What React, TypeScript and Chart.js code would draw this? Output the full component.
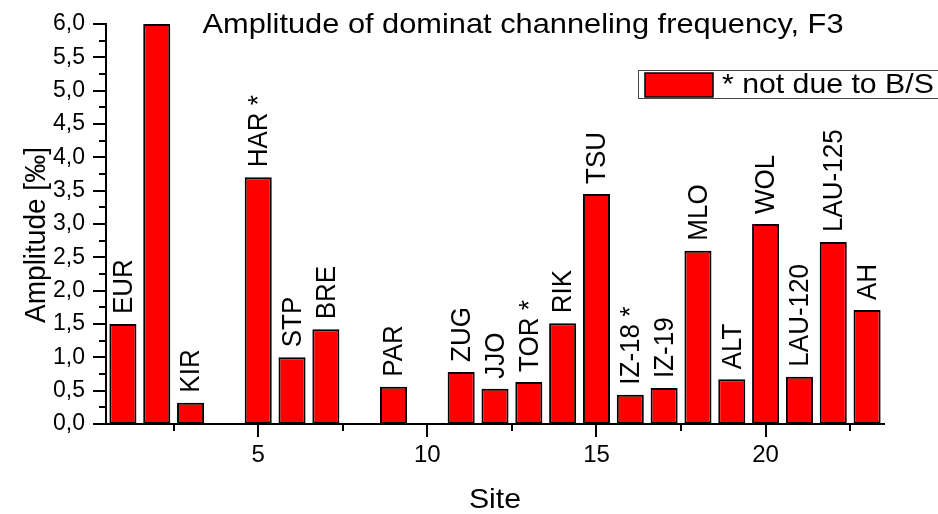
import React, { useEffect, useRef } from "react";
import { Chart, registerables } from "chart.js";

Chart.register(...registerables);

// ---- data ----
const siteNumbers = [1, 2, 3, 4, 5, 6, 7, 8, 9, 10, 11, 12, 13, 14, 15, 16, 17, 18, 19, 20, 21, 22, 23];
const siteNames = [
  "EUR", "", "KIR", "", "HAR *", "STP", "BRE", "", "PAR", "", "ZUG", "JJO",
  "TOR *", "RIK", "TSU", "IZ-18 *", "IZ-19", "MLO", "ALT", "WOL", "LAU-120", "LAU-125", "AH",
];
const amplitudes: (number | null)[] = [
  1.5, 6.0, 0.32, null, 3.7, 1.0, 1.42, null, 0.56, null, 0.78, 0.53,
  0.63, 1.51, 3.45, 0.44, 0.54, 2.6, 0.67, 3.0, 0.71, 2.73, 1.71,
];
const xMajorTicks = [5, 10, 15, 20];
const xMinorTicks = [2.5, 7.5, 12.5, 17.5, 22.5];
const yMinorTicks = [0.25, 0.75, 1.25, 1.75, 2.25, 2.75, 3.25, 3.75, 4.25, 4.75, 5.25, 5.75];
const chartTitle = "Amplitude of dominat channeling frequency, F3";
const xAxisTitle = "Site";
const yAxisTitle = "Amplitude [‰]";
const legendLabel = "* not due to B/S";

const FONT = "'Liberation Sans', Arial, Helvetica, sans-serif";
const STRETCH = 1.08;

const points = siteNumbers
  .map((s, i) => ({ x: s, y: amplitudes[i], name: siteNames[i] }))
  .filter((p) => p.y !== null) as { x: number; y: number; name: string }[];

function stretchedText(ctx: CanvasRenderingContext2D, text: string, x: number, y: number, rotate = false) {
  ctx.save();
  ctx.translate(x, y);
  ctx.scale(STRETCH, 1);
  if (rotate) ctx.rotate(-Math.PI / 2);
  ctx.fillText(text, 0, 0);
  ctx.restore();
}

const decorPlugin = {
  id: "decor",
  afterDraw(chart: any) {
    const ctx: CanvasRenderingContext2D = chart.ctx;
    const xs = chart.scales.x;
    const ys = chart.scales.y;
    const area = chart.chartArea;
    ctx.save();
    ctx.strokeStyle = "#000";
    ctx.lineWidth = 2;
    ctx.beginPath();
    ys.ticks.forEach((t: any) => {
      const p = Math.round(ys.getPixelForValue(t.value));
      ctx.moveTo(area.left - 13, p);
      ctx.lineTo(area.left, p);
    });
    yMinorTicks.forEach((v) => {
      const p = Math.round(ys.getPixelForValue(v));
      ctx.moveTo(area.left - 7, p);
      ctx.lineTo(area.left, p);
    });
    xMajorTicks.forEach((v) => {
      const p = Math.round(xs.getPixelForValue(v));
      ctx.moveTo(p, area.bottom);
      ctx.lineTo(p, area.bottom + 13);
    });
    xMinorTicks.forEach((v) => {
      const p = Math.round(xs.getPixelForValue(v));
      ctx.moveTo(p, area.bottom);
      ctx.lineTo(p, area.bottom + 7);
    });
    ctx.stroke();

    // bar labels
    const meta = chart.getDatasetMeta(0);
    ctx.fillStyle = "#000";
    ctx.font = `26px ${FONT}`;
    ctx.textAlign = "left";
    ctx.textBaseline = "middle";
    meta.data.forEach((el: any, i: number) => {
      const name = points[i].name;
      if (!name) return;
      stretchedText(ctx, name, el.x + 1, el.y - 10, true);
    });

    // title
    ctx.font = `28.5px ${FONT}`;
    ctx.textAlign = "center";
    ctx.textBaseline = "alphabetic";
    stretchedText(ctx, chartTitle, 523, 33);

    // x axis title
    ctx.font = `28px ${FONT}`;
    stretchedText(ctx, xAxisTitle, (area.left + area.right) / 2, 508);

    // y axis title
    stretchedText(ctx, yAxisTitle, 45, 235, true);

    // legend
    ctx.lineWidth = 1;
    ctx.strokeStyle = "#444";
    ctx.strokeRect(638.5, 70.5, 320, 28);
    ctx.fillStyle = "#ff0000";
    ctx.fillRect(645, 73, 68, 24);
    ctx.lineWidth = 1.5;
    ctx.strokeStyle = "#000";
    ctx.strokeRect(645, 73, 68, 24);
    ctx.fillStyle = "#000";
    ctx.font = `28px ${FONT}`;
    ctx.textAlign = "left";
    ctx.textBaseline = "middle";
    stretchedText(ctx, legendLabel, 722, 85);
    ctx.restore();
  },
};

export default function App() {
  const ref = useRef<HTMLCanvasElement>(null);
  useEffect(() => {
    document.body.style.margin = "0";
    const chart = new Chart(ref.current as HTMLCanvasElement, {
      type: "bar",
      data: {
        datasets: [
          {
            label: legendLabel,
            data: points as any,
            backgroundColor: "#ff0000",
            borderColor: "#000000",
            borderWidth: 2,
            borderSkipped: false,
            barPercentage: 0.8,
            categoryPercentage: 1.0,
          },
        ],
      },
      options: {
        responsive: false,
        animation: false,
        devicePixelRatio: 1,
        layout: { padding: { left: 0, right: 54, top: 24, bottom: 0 } },
        plugins: {
          legend: { display: false },
          tooltip: { enabled: false },
          title: { display: false },
        },
        scales: {
          x: {
            type: "linear",
            min: 0.5,
            max: 23.5,
            offset: false,
            afterBuildTicks: (scale: any) => {
              scale.ticks = xMajorTicks.map((v) => ({ value: v }));
            },
            afterFit: (scale: any) => {
              scale.height = 90;
              scale.paddingLeft = 0;
              scale.paddingRight = 0;
            },
            grid: { display: false, drawTicks: false, offset: false },
            border: { display: true, color: "#000", width: 2 },
            ticks: {
              color: "#000",
              font: { family: FONT, size: 24 },
              padding: 17,
              maxRotation: 0,
              autoSkip: false,
              callback: (v: any) => String(v),
            },
          },
          y: {
            min: 0,
            max: 6,
            afterFit: (scale: any) => {
              scale.width = 106;
              scale.paddingTop = 0;
              scale.paddingBottom = 0;
            },
            grid: { display: false, drawTicks: false },
            border: { display: true, color: "#000", width: 2 },
            ticks: {
              stepSize: 0.5,
              color: "#000",
              font: { family: FONT, size: 23 },
              padding: 21,
              callback: (v: any) => Number(v).toFixed(1).replace(".", ","),
            },
          },
        },
      },
      plugins: [decorPlugin],
    });
    return () => chart.destroy();
  }, []);
  return (
    <div style={{ width: 938, height: 514 }}>
      <canvas ref={ref} width={938} height={514} style={{ display: "block" }} />
    </div>
  );
}
